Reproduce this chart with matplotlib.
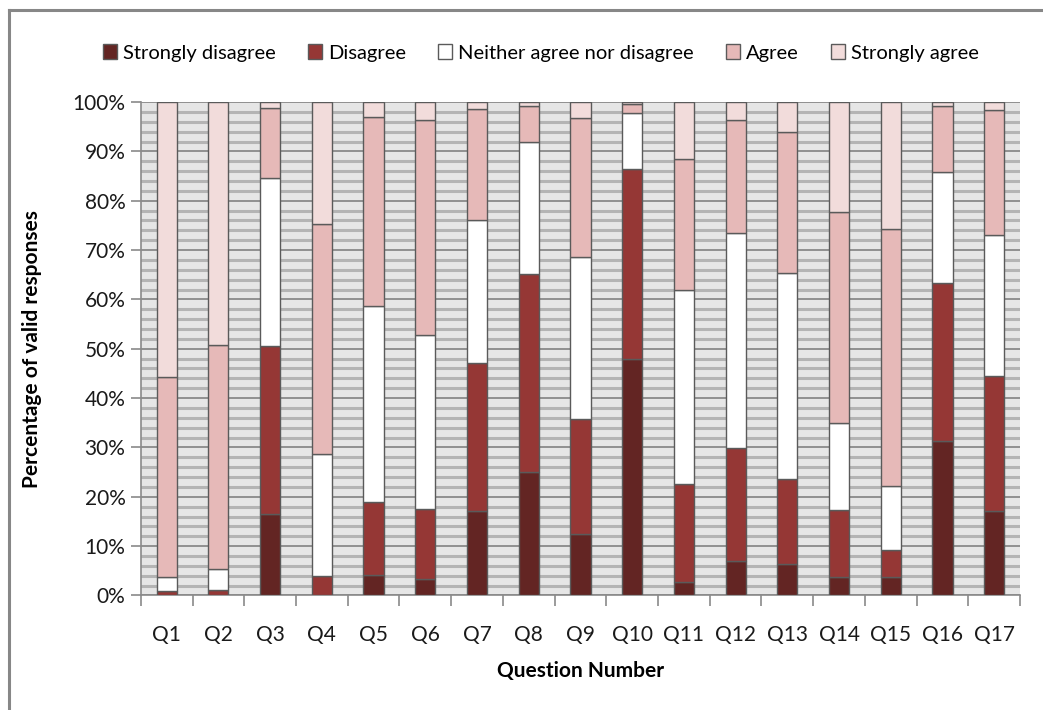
import numpy as np
import matplotlib.pyplot as plt
from matplotlib.lines import Line2D
from matplotlib.ticker import MultipleLocator, FuncFormatter

preguntas = [f"Q{i}" for i in range(1, 18)]
categorias = ["Strongly disagree", "Disagree", "Neither agree nor disagree",
              "Agree", "Strongly agree"]

# porcentaje de respuestas validas por pregunta
muy_desacuerdo = [0.0, 0.0, 16.5, 0.0, 4.2, 3.3, 17.1, 25.0, 12.5, 47.9,
                  2.7, 6.9, 6.4, 3.8, 3.8, 31.3, 17.1]
desacuerdo = [1.0, 1.1, 34.0, 3.9, 14.7, 14.2, 30.0, 40.1, 23.2, 38.5,
              19.8, 22.9, 17.3, 13.5, 5.4, 32.0, 27.4]
neutral = [2.7, 4.3, 34.2, 24.7, 39.8, 35.3, 29.0, 26.7, 32.8, 11.4,
           39.5, 43.6, 41.6, 17.7, 13.0, 22.6, 28.6]
de_acuerdo = [40.5, 45.4, 14.0, 46.6, 38.3, 43.6, 22.5, 7.3, 28.3, 1.8,
              26.4, 23.0, 28.7, 42.7, 52.0, 13.2, 25.3]
muy_de_acuerdo = [55.8, 49.2, 1.3, 24.8, 3.0, 3.6, 1.4, 0.9, 3.2, 0.4,
                  11.6, 3.6, 6.0, 22.3, 25.8, 0.9, 1.6]

colores = ["#632523", "#953735", "#ffffff", "#e6b9b8", "#f2dcdb"]

plt.rcParams["font.family"] = ["Lato", "DejaVu Sans"]

fig = plt.figure(figsize=(10.43, 7.1), dpi=100)
ax = fig.add_axes([0.135, 0.1613, 0.843, 0.695])
ax.set_facecolor("#e6e6e6")

# marco exterior del grafico
fig.add_artist(Line2D([9 / 1043, 9 / 1043], [0, 1 - 10 / 710],
                      transform=fig.transFigure, color="#878787", lw=2.2))
fig.add_artist(Line2D([9 / 1043, 1], [1 - 10 / 710, 1 - 10 / 710],
                      transform=fig.transFigure, color="#878787", lw=2.2))

x = np.arange(len(preguntas))
series = [muy_desacuerdo, desacuerdo, neutral, de_acuerdo, muy_de_acuerdo]
base = np.zeros(len(preguntas))
for nombre, valores, color in zip(categorias, series, colores):
    ax.bar(x, valores, bottom=base, width=0.39, color=color,
           edgecolor="#5a5a5a", linewidth=1.0, label=nombre, zorder=3)
    base += np.array(valores)

ax.set_xlim(-0.5, len(preguntas) - 0.5)
ax.set_ylim(0, 100)

# rejilla: lineas menores cada 2 % y mayores cada 10 %
ax.yaxis.set_major_locator(MultipleLocator(10))
ax.yaxis.set_minor_locator(MultipleLocator(2))
ax.grid(which="minor", axis="y", color="#b4b4b4", lw=2.2, zorder=0)
ax.grid(which="major", axis="y", color="#8a8a8a", lw=1.3, zorder=1)
ax.yaxis.set_major_formatter(FuncFormatter(lambda v, p: f"{v:.0f}%"))

ax.set_xticks(x)
ax.set_xticklabels(preguntas)
ax.set_xticks(np.arange(-0.5, len(preguntas)), minor=True)
ax.tick_params(axis="x", which="major", length=0, pad=21, labelsize=15,
               colors="#1a1a1a")
ax.tick_params(axis="x", which="minor", length=8, color="#8a8a8a", width=1.2)
ax.tick_params(axis="y", which="major", length=7, color="#8a8a8a", width=1.2,
               labelsize=15, labelcolor="#1a1a1a", pad=4)
ax.tick_params(axis="y", which="minor", length=0)

for lado in ["top", "right"]:
    ax.spines[lado].set_visible(False)
for lado in ["left", "bottom"]:
    ax.spines[lado].set_color("#8a8a8a")
    ax.spines[lado].set_linewidth(1.2)

ax.set_xlabel("Question Number", fontsize=15, fontweight="bold", labelpad=12)
ax.set_ylabel("Percentage of valid responses", fontsize=15,
              fontweight="bold", labelpad=22)

ax.legend(loc="lower center", bbox_to_anchor=(0.455, 1.045), ncol=5,
          frameon=False, fontsize=14.5, handlelength=0.7, handleheight=0.75,
          handletextpad=0.3, columnspacing=1.6)

fig.savefig("out.png", dpi=100)
